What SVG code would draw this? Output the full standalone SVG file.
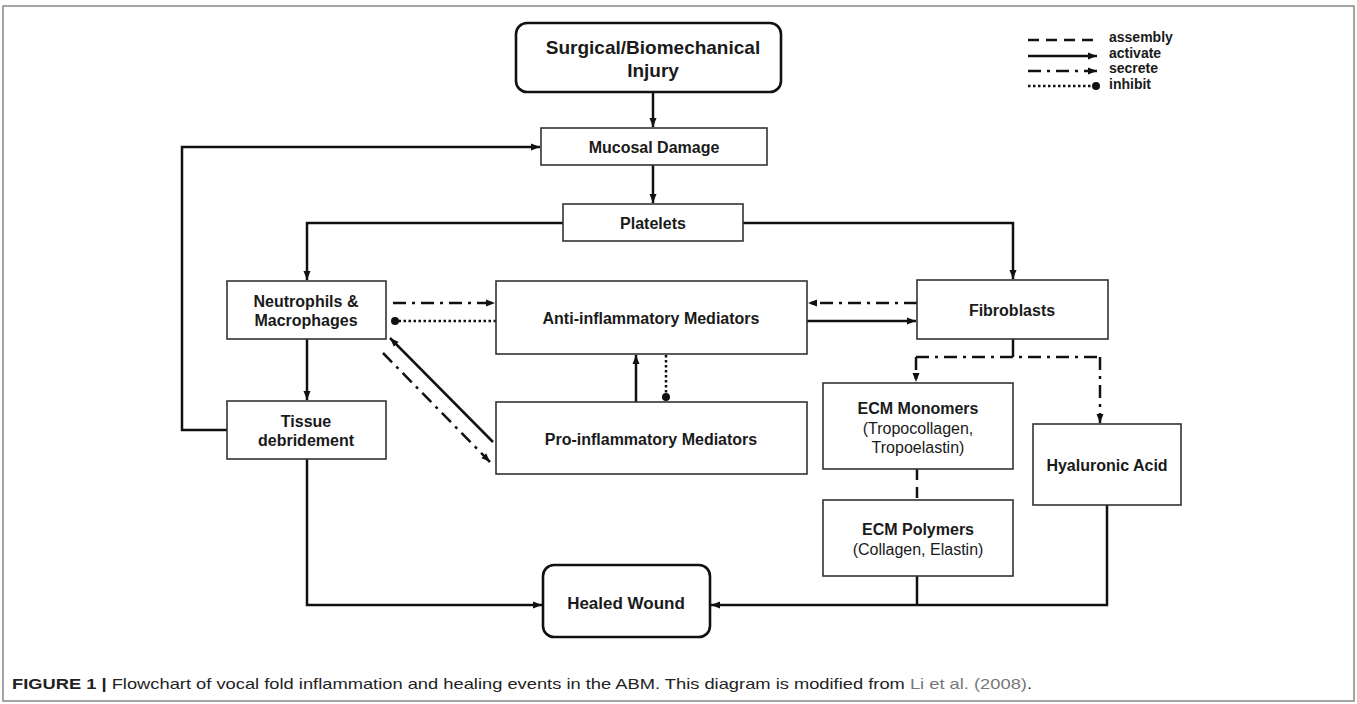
<svg xmlns="http://www.w3.org/2000/svg" width="1357" height="704" viewBox="0 0 1357 704">
<defs>
<marker id="arr" markerUnits="userSpaceOnUse" markerWidth="10" markerHeight="8" refX="9" refY="4" orient="auto"><path d="M0,0.5 L9,4 L0,7.5 z" fill="#111"/></marker>
<marker id="dot" markerUnits="userSpaceOnUse" markerWidth="10" markerHeight="10" refX="5" refY="5" orient="auto"><circle cx="5" cy="5" r="4" fill="#111"/></marker>
<style>
.box{fill:#fff;stroke:#333;stroke-width:1.6}
.rbox{fill:#fff;stroke:#111;stroke-width:2.6}
.t{font-family:"Liberation Sans",Arial,sans-serif;font-size:16px;font-weight:bold;fill:#1a1a1a;text-anchor:middle}
.r{font-weight:normal}
.c{fill:none;stroke:#111;stroke-width:2.5}
.act{marker-end:url(#arr)}
.sec{stroke-dasharray:13 6 3 6;marker-end:url(#arr)}
.inh{stroke-dasharray:2.5 2.5;marker-end:url(#dot)}
.asm{stroke-dasharray:11 7}
.lg{font-family:"Liberation Sans",Arial,sans-serif;font-size:14px;font-weight:bold;fill:#1a1a1a}
</style>
</defs>
<rect x="3" y="6" width="1351" height="695" fill="#fff" stroke="#888" stroke-width="1.5"/>

<g id="connectors">
<path class="c act" d="M653,92 V127"/>
<path class="c act" d="M653,165 V203"/>
<path class="c act" d="M563,223 H307 V280"/>
<path class="c act" d="M743,223 H1013 V279"/>
<path class="c act" d="M307,339 V400"/>
<path class="c act" d="M227,430 H182 V147 H540"/>
<path class="c act" d="M307,459 V605 H542"/>
<path class="c sec" d="M393,303 H495"/>
<path class="c inh" d="M496,321 H395"/>
<path class="c act" d="M493,442 L390,338"/>
<path class="c sec" d="M383,353 L490,462"/>
<path class="c act" d="M636,402 V355"/>
<path class="c inh" d="M666,355 V397"/>
<path class="c sec" d="M917,303 H808"/>
<path class="c act" d="M807,321 H916"/>
<path class="c" d="M1013,339 V357"/>
<path class="c" style="stroke-dasharray:13 6 3 6" d="M916,357 H1101"/>
<path class="c sec" d="M916,357 V382"/>
<path class="c sec" d="M1100,357 V423"/>
<path class="c asm" d="M917,469 V500"/>
<path class="c act" d="M917,576 V605 M1107,505 V605 H711"/>
</g>

<g id="injury"><rect class="rbox" x="516" y="23" width="265" height="69" rx="11"/><text class="t" x="653" y="54" style="font-size:19px">Surgical/Biomechanical</text><text class="t" x="653" y="77" style="font-size:19px">Injury</text></g>
<g id="mucosal"><rect class="box" x="541" y="128" width="226" height="37"/><text class="t" x="654" y="153">Mucosal Damage</text></g>
<g id="platelets"><rect class="box" x="563" y="204" width="180" height="37"/><text class="t" x="653" y="229">Platelets</text></g>
<g id="neutrophils"><rect class="box" x="227" y="281" width="159" height="58"/><text class="t" x="306" y="307">Neutrophils &amp;</text><text class="t" x="306" y="326">Macrophages</text></g>
<g id="tissue"><rect class="box" x="227" y="401" width="159" height="58"/><text class="t" x="306" y="427">Tissue</text><text class="t" x="306" y="446">debridement</text></g>
<g id="anti"><rect class="box" x="496" y="281" width="311" height="73"/><text class="t" x="651" y="324">Anti-inflammatory  Mediators</text></g>
<g id="pro"><rect class="box" x="496" y="402" width="311" height="72"/><text class="t" x="651" y="445">Pro-inflammatory  Mediators</text></g>
<g id="fibroblasts"><rect class="box" x="917" y="280" width="191" height="59"/><text class="t" x="1012" y="316">Fibroblasts</text></g>
<g id="ecm-monomers"><rect class="box" x="823" y="383" width="190" height="86"/><text class="t" x="918" y="414">ECM Monomers</text><text class="t r" x="918" y="434">(Tropocollagen,</text><text class="t r" x="918" y="453">Tropoelastin)</text></g>
<g id="hyaluronic"><rect class="box" x="1033" y="424" width="148" height="81"/><text class="t" x="1107" y="471">Hyaluronic Acid</text></g>
<g id="ecm-polymers"><rect class="box" x="823" y="500" width="190" height="76"/><text class="t" x="918" y="535">ECM Polymers</text><text class="t r" x="918" y="555">(Collagen, Elastin)</text></g>
<g id="healed"><rect class="rbox" x="543" y="565" width="167" height="72" rx="11"/><text class="t" x="626" y="609" style="font-size:17px">Healed Wound</text></g>

<g id="legend">
<line class="c asm" x1="1028" y1="40" x2="1093" y2="40"/>
<line class="c act" x1="1028" y1="56" x2="1097" y2="56"/>
<line class="c sec" x1="1028" y1="71" x2="1097" y2="71"/>
<line class="c inh" x1="1028" y1="86" x2="1096" y2="86"/>
<text class="lg" x="1109" y="42">assembly</text>
<text class="lg" x="1109" y="58">activate</text>
<text class="lg" x="1109" y="73">secrete</text>
<text class="lg" x="1109" y="89">inhibit</text>
</g>

<text x="12" y="689" textLength="1020" lengthAdjust="spacingAndGlyphs" style="font-family:'Liberation Sans',Arial,sans-serif;font-size:15px;fill:#222"><tspan font-weight="bold">FIGURE 1 |</tspan> Flowchart of vocal fold inflammation and healing events in the ABM. This diagram is modified from <tspan fill="#777">Li et al. (2008)</tspan>.</text>
</svg>
